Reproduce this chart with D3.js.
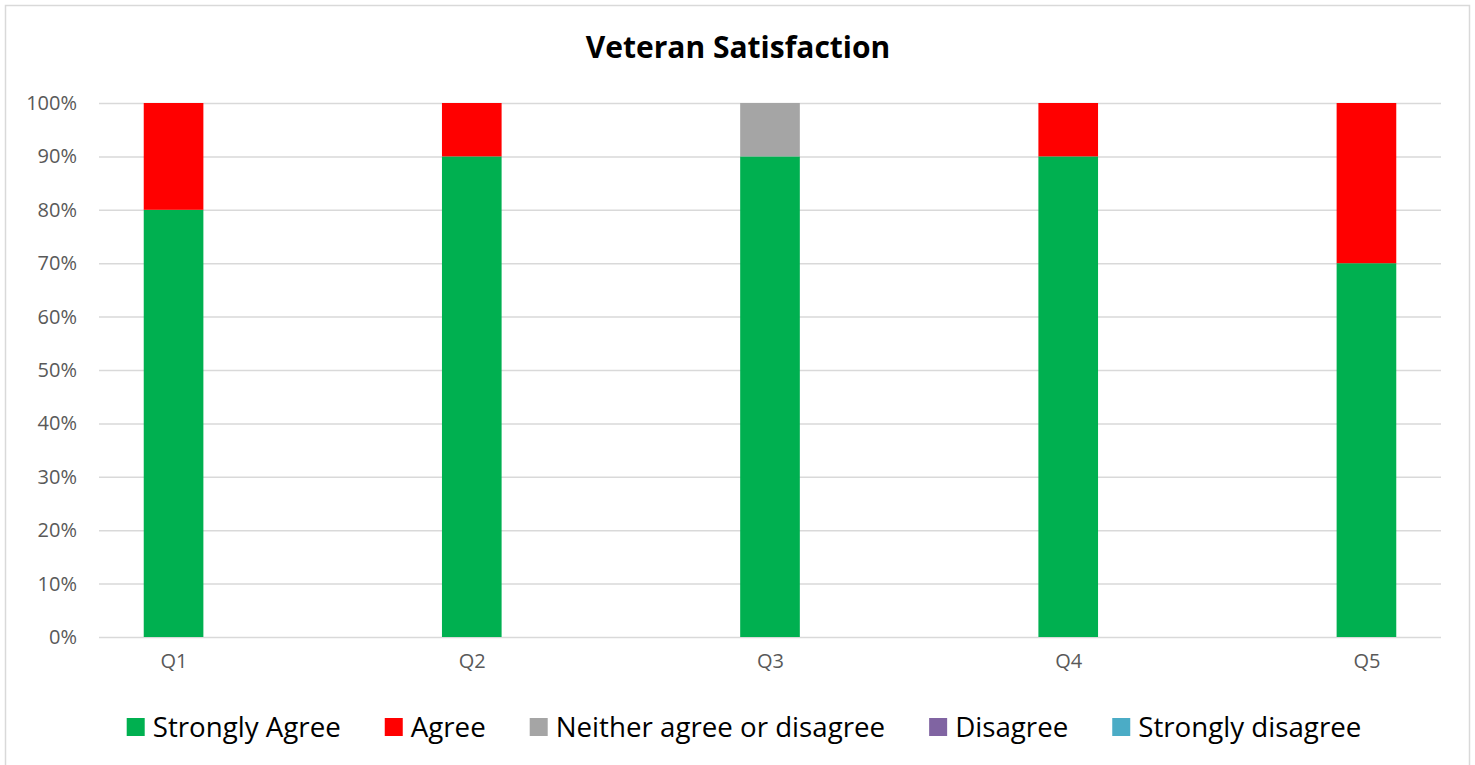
<!DOCTYPE html>
<html>
<head>
<meta charset="utf-8">
<script src="https://cdn.jsdelivr.net/npm/d3@7"></script>
<style>
  html, body { margin: 0; padding: 0; background: #fff; }
  svg { display: block; }
</style>
</head>
<body>
<svg id="chart" width="1475" height="765"></svg>
<script>
// Survey questions and share of responses per answer (percent)
const questions = ["Q1", "Q2", "Q3", "Q4", "Q5"];
const seriesNames = ["Strongly Agree", "Agree", "Neither agree or disagree", "Disagree", "Strongly disagree"];
const stronglyAgree = [80, 90, 90, 90, 70];
const agree = [20, 10, 0, 10, 30];
const neither = [0, 0, 10, 0, 0];
const disagree = [0, 0, 0, 0, 0];
const stronglyDisagree = [0, 0, 0, 0, 0];
const yTicks = [0, 10, 20, 30, 40, 50, 60, 70, 80, 90, 100];
const seriesColors = ["#00B050", "#FF0000", "#A5A5A5", "#8064A2", "#4BACC6"];

const seriesValues = [stronglyAgree, agree, neither, disagree, stronglyDisagree];
const rows = questions.map((q, i) => {
  const r = { q };
  seriesNames.forEach((s, j) => { r[s] = seriesValues[j][i]; });
  return r;
});

const svg = d3.select("#chart");
const font = "'Open Sans', Lato, sans-serif";

// Outer chart frame
svg.append("rect")
  .attr("x", 5.5).attr("y", 5.5)
  .attr("width", 1464).attr("height", 770)
  .attr("fill", "#fff").attr("stroke", "#D9D9D9").attr("stroke-width", 1.5);

const plot = { left: 99, right: 1441, top: 103, bottom: 637 };

const x = d3.scalePoint().domain(questions).range([plot.left, plot.right]).padding(0.25);
const y = d3.scaleLinear().domain([0, 100]).range([plot.bottom, plot.top]);
const barW = x.step() * 0.2;

// Horizontal gridlines
svg.append("g")
  .selectAll("line")
  .data(yTicks)
  .join("line")
  .attr("x1", plot.left).attr("x2", plot.right)
  .attr("y1", d => y(d) + 0.5).attr("y2", d => y(d) + 0.5)
  .attr("stroke", "#D9D9D9").attr("stroke-width", 1.5);

// Y axis labels
const yAxis = svg.append("g")
  .attr("transform", `translate(${plot.left - 22},0)`)
  .call(d3.axisLeft(y).tickValues(yTicks).tickFormat(d => d + "%").tickSize(0).tickPadding(0));
yAxis.select(".domain").remove();
yAxis.selectAll("text")
  .attr("font-family", font).attr("font-size", 20).attr("fill", "#595959");

// Stacked bars
const stack = d3.stack().keys(seriesNames)(rows);
svg.append("g")
  .selectAll("g")
  .data(stack)
  .join("g")
  .attr("fill", (d, i) => seriesColors[i])
  .selectAll("rect")
  .data(d => d.filter(p => p[1] - p[0] > 0))
  .join("rect")
  .attr("x", d => x(d.data.q) - barW / 2)
  .attr("width", barW)
  .attr("y", d => y(d[1]))
  .attr("height", d => y(d[0]) - y(d[1]));

// X axis labels
const xAxis = svg.append("g")
  .attr("transform", `translate(0,${plot.bottom + 21})`)
  .call(d3.axisBottom(x).tickSize(0).tickPadding(0));
xAxis.select(".domain").remove();
xAxis.selectAll("text")
  .attr("font-family", font).attr("font-size", 20).attr("fill", "#595959")
  .attr("dy", "0.5em");

// Title
svg.append("text")
  .attr("x", 738).attr("y", 58)
  .attr("text-anchor", "middle")
  .attr("font-family", font).attr("font-size", 30).attr("font-weight", "bold")
  .attr("fill", "#000")
  .text("Veteran Satisfaction");

// Legend, centred under the plot
const legend = svg.append("g");
const items = legend.selectAll("g")
  .data(seriesNames)
  .join("g");
items.append("rect")
  .attr("width", 18).attr("height", 18)
  .attr("y", 718)
  .attr("fill", (d, i) => seriesColors[i]);
items.append("text")
  .attr("x", 26).attr("y", 737)
  .attr("font-family", font).attr("font-size", 27.7).attr("fill", "#000")
  .text(d => d);

let cursor = 0;
const offsets = [];
items.each(function () {
  offsets.push(cursor);
  const w = d3.select(this).select("text").node().getComputedTextLength();
  cursor += 26 + w + 44;
});
const totalW = cursor - 44;
const startX = 744 - totalW / 2;
items.attr("transform", (d, i) => `translate(${startX + offsets[i]},0)`);
</script>
</body>
</html>
